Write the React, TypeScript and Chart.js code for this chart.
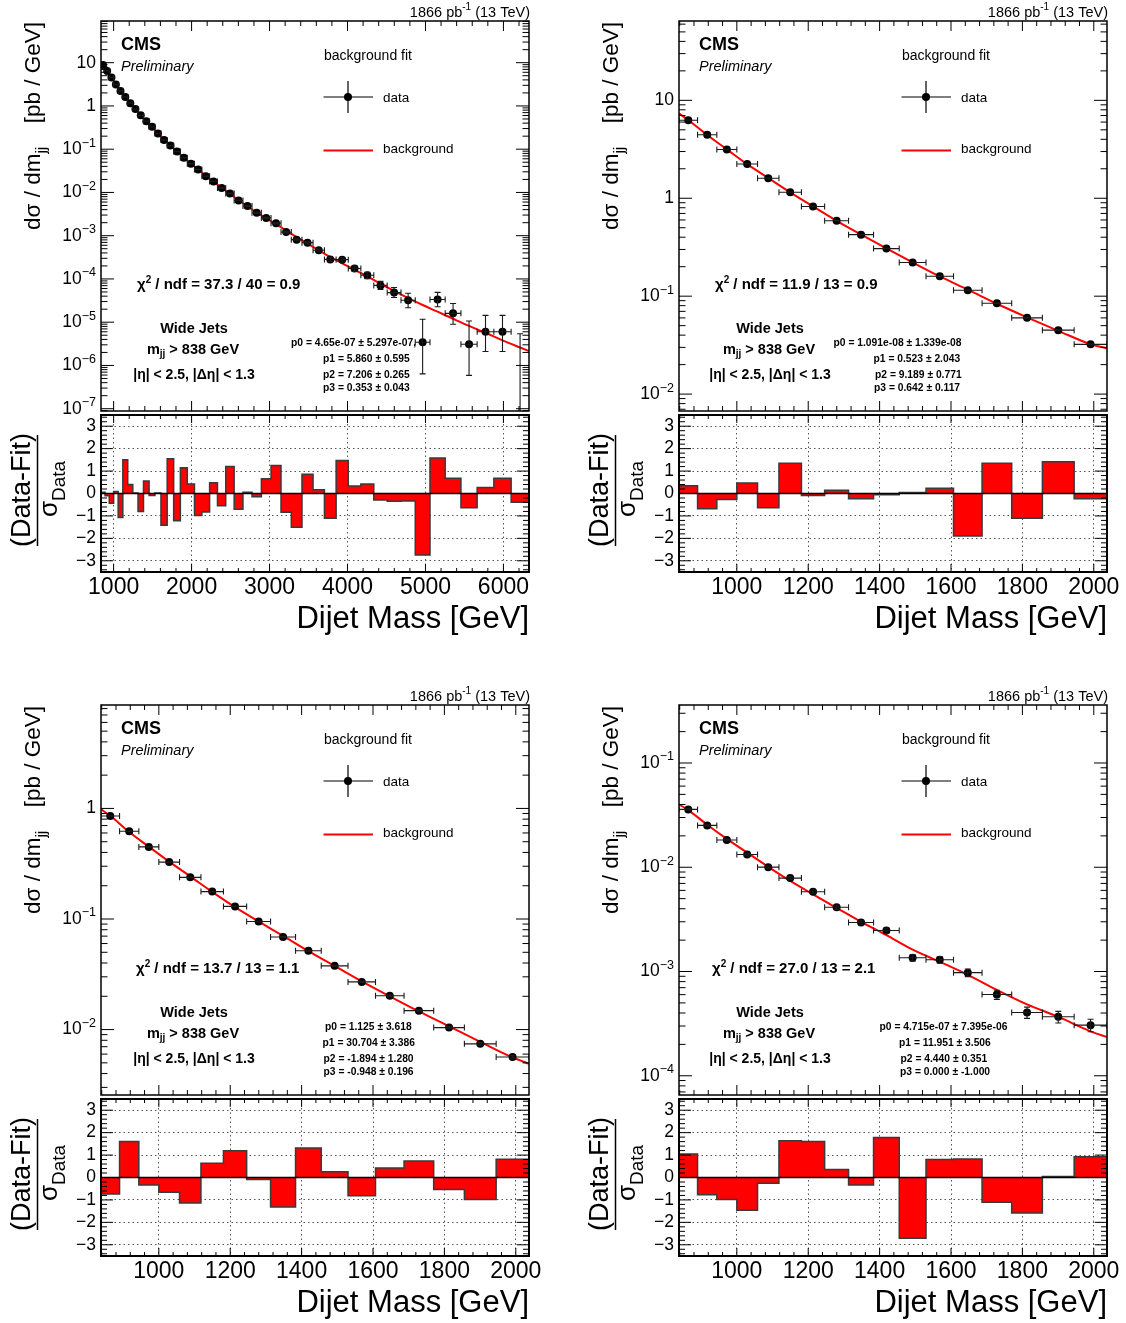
import React, { useEffect, useRef } from "react";
import { Chart, registerables } from "chart.js";

Chart.register(...registerables);

const FONT = '"Liberation Sans", Arial, Helvetica, sans-serif';
const fnt = (size: number, style = "") => `${style} ${size}px ${FONT}`.trim();

// ---------------- data ----------------
const massEdgesWide = [838, 890, 944, 1000, 1058, 1118, 1181, 1246, 1313, 1383, 1455, 1530, 1607, 1687, 1770, 1856, 1945, 2037, 2132, 2231, 2332, 2438, 2546, 2659, 2775, 2895, 3019, 3147, 3279, 3416, 3558, 3704, 3854, 4010, 4171, 4337, 4509, 4686, 4869, 5058, 5253, 5455, 5663, 5877, 6099, 6328];
const massEdgesNarrow = [838, 890, 944, 1000, 1058, 1118, 1181, 1246, 1313, 1383, 1455, 1530, 1607, 1687, 1770, 1856, 1945, 2037];

const xTickLabelsWide = [1000, 2000, 3000, 4000, 5000, 6000];
const xTickLabelsNarrow = [1000, 1200, 1400, 1600, 1800, 2000];
const pullTickLabels = [-3, -2, -1, 0, 1, 2, 3];

// top-left
const tlSpectrum = [8.85, 6.46, 4.55, 3.15, 2.22, 1.62, 1.16, 0.848, 0.607, 0.443, 0.329, 0.232, 0.163, 0.121, 0.0885, 0.0634, 0.0462, 0.0338, 0.0238, 0.018, 0.01267, 0.0094, 0.00651, 0.00483, 0.0034, 0.00258, 0.00195, 0.00121, 0.00081, 0.00069, 0.00046, 0.000283, 0.000279, 0.000174, 0.000122, 0.000071, 0.0000483, 0.0000323, 0.00000344, 0.0000335, 0.000016, 0.00000309, 0.000006, 0.000006, 0];
const tlErrUp = [0.0096, 0.008, 0.0066, 0.0054, 0.0045, 0.0037, 0.0031, 0.0026, 0.0022, 0.0018, 0.0015, 0.0013, 0.001, 0.00088, 0.00074, 0.00062, 0.00052, 0.00044, 0.00036, 0.00031, 0.00025, 0.00022, 0.00018, 0.00015, 0.00012, 0.00011, 0.00009, 0.00007, 0.000056, 0.000051, 0.000041, 0.000032, 0.000031, 0.000024, 0.00002, 0.000017, 0.000015, 0.0000145, 0.0000083, 0.0000155, 0.000011, 0.0000076, 0.0000084, 0.0000084, 0.0000054];
const tlErrDown = [0.0096, 0.008, 0.0066, 0.0054, 0.0045, 0.0037, 0.0031, 0.0026, 0.0022, 0.0018, 0.0015, 0.0013, 0.001, 0.00088, 0.00074, 0.00062, 0.00052, 0.00044, 0.00036, 0.00031, 0.00025, 0.00022, 0.00018, 0.00015, 0.00012, 0.00011, 0.00009, 0.00007, 0.000056, 0.000051, 0.000041, 0.000032, 0.000031, 0.000024, 0.00002, 0.000014, 0.000011, 0.0000107, 0.0000028, 0.0000107, 0.000007, 0.0000025, 0.0000039, 0.0000039, 0];
const tlFit = [10.2, 8.75, 6.48, 4.57, 3.17, 2.24, 1.6, 1.155, 0.848, 0.612, 0.441, 0.329, 0.231, 0.166, 0.12, 0.0893, 0.063, 0.0458, 0.0342, 0.0241, 0.0178, 0.0128, 0.00925, 0.0066, 0.00482, 0.00342, 0.00252, 0.00185, 0.00131, 0.00093, 0.00066, 0.00046, 0.00032, 0.00023, 0.000162, 0.000115, 0.000077, 0.000053, 0.000036, 0.000025, 0.0000175, 0.000012, 0.0000082, 0.0000057, 0.0000038, 0.0000026, 0.00000215];
const tlPull = [0.06, -0.1, -0.44, 0.09, -1.07, 1.5, 0.4, 0.02, -0.8, 0.56, -0.09, 0.02, -1.42, 1.55, -1.21, 1.15, 0.42, -0.98, -0.83, 0.48, -0.55, 1.2, -0.7, 0.06, -0.15, 0.66, 1.25, -0.84, -1.5, 0.86, 0.17, -1.1, 1.47, 0.33, 0.42, -0.29, -0.35, -0.33, -2.74, 1.58, 0.68, -0.64, 0.27, 0.68, -0.39];
const tlDecades = [10, 1, 0.1, 0.01, 1e-3, 1e-4, 1e-5, 1e-6, 1e-7];

// top-right
const trSpectrum = [6.27, 4.45, 3.15, 2.24, 1.6, 1.153, 0.824, 0.59, 0.425, 0.306, 0.221, 0.16, 0.1148, 0.0847, 0.0601, 0.045, 0.0322];
const trErr = [0.008, 0.0066, 0.0055, 0.0045, 0.0038, 0.0031, 0.0026, 0.0022, 0.0018, 0.0015, 0.00126, 0.00106, 0.00088, 0.00074, 0.00061, 0.00052, 0.00043];
const trFit = [7.35, 6.3, 4.42, 3.16, 2.23, 1.61, 1.15, 0.826, 0.589, 0.427, 0.307, 0.221, 0.159, 0.1165, 0.0837, 0.0608, 0.0443, 0.0323, 0.0293];
const trPull = [0.35, -0.68, -0.27, 0.47, -0.64, 1.35, -0.09, 0.14, -0.23, -0.06, 0.05, 0.23, -1.89, 1.35, -1.1, 1.42, -0.23];
const trDecades = [10, 1, 0.1, 0.01];

// bottom-left
const blSpectrum = [0.853, 0.621, 0.449, 0.327, 0.238, 0.177, 0.13, 0.095, 0.0687, 0.0517, 0.0377, 0.027, 0.0202, 0.01483, 0.01042, 0.00743, 0.00564];
const blErr = [0.003, 0.0025, 0.0021, 0.0017, 0.00146, 0.00123, 0.00103, 0.00087, 0.00073, 0.00062, 0.00052, 0.00043, 0.00037, 0.00031, 0.000255, 0.000212, 0.000181];
const blFit = [0.98, 0.858, 0.612, 0.451, 0.33, 0.243, 0.176, 0.128, 0.0951, 0.0703, 0.0512, 0.0376, 0.0273, 0.02, 0.0146, 0.0107, 0.00775, 0.0056, 0.0049];
const blPull = [-0.74, 1.6, -0.33, -0.66, -1.14, 0.63, 1.19, -0.09, -1.32, 1.31, 0.26, -0.81, 0.42, 0.74, -0.54, -0.98, 0.81];
const blDecades = [1, 0.1, 0.01];

// bottom-right
const brSpectrum = [0.0359, 0.0252, 0.01828, 0.01324, 0.01002, 0.00787, 0.00583, 0.00413, 0.00295, 0.00247, 0.001356, 0.001297, 0.000975, 0.000601, 0.000405, 0.000368, 0.000306];
const brErr = [0.00061, 0.0005, 0.00044, 0.00037, 0.00032, 0.00028, 0.00023, 0.00019, 0.00015, 0.000136, 0.000099, 0.000095, 0.000081, 0.00006, 0.00005, 0.000047, 0.000042];
const brFit = [0.0401, 0.0353, 0.0256, 0.0187, 0.0138, 0.0101, 0.0074, 0.0055, 0.00408, 0.003, 0.00223, 0.00162, 0.00124, 0.00093, 0.000667, 0.000484, 0.000367, 0.000267, 0.000235];
const brPull = [1.05, -0.77, -0.98, -1.46, -0.26, 1.64, 1.61, 0.36, -0.33, 1.78, -2.71, 0.8, 0.83, -1.1, -1.58, 0.05, 0.92];
const brDecades = [0.1, 0.01, 1e-3, 1e-4];

// ---------------- layout ----------------
const PANEL_W = 563;
const FRAME_L = 101;
const FRAME_R = 529;
const UP_TOP = 21;
const UP_BOT = 413;
const UP_H = 415;
const LO_OFF = 413;
const LO_TOP = 415;
const LO_BOT = 572;
const LO_H = 240;

type Spec = {
  left: number; top: number;
  edges: number[]; values: number[]; errUp: number[]; errDown: number[];
  fit: number[]; pulls: number[];
  yMin: number; yMax: number; decades: number[];
  xTicks: number[]; xMinorStep: number;
  chi2: string; chiX: number; wjX: number;
  params: string[]; paramX: number[];
};

const specs: Spec[] = [
  {
    left: 0, top: 0, edges: massEdgesWide, values: tlSpectrum, errUp: tlErrUp, errDown: tlErrDown,
    fit: tlFit, pulls: tlPull, yMin: 8.85e-8, yMax: 92, decades: tlDecades,
    xTicks: xTickLabelsWide, xMinorStep: 200,
    chi2: " / ndf = 37.3 / 40 = 0.9", chiX: 137, wjX: 194,
    params: ["p0 = 4.65e-07 \u00b1 5.297e-07,", "p1 = 5.860 \u00b1 0.595", "p2 = 7.206 \u00b1 0.265", "p3 = 0.353 \u00b1 0.043"],
    paramX: [291, 323, 323, 323],
  },
  {
    left: 578, top: 0, edges: massEdgesNarrow, values: trSpectrum, errUp: trErr, errDown: trErr,
    fit: trFit, pulls: trPull, yMin: 6.72e-3, yMax: 64.6, decades: trDecades,
    xTicks: xTickLabelsNarrow, xMinorStep: 40,
    chi2: " / ndf = 11.9 / 13 = 0.9", chiX: 137, wjX: 192,
    params: ["p0 = 1.091e-08 \u00b1 1.339e-08", "p1 = 0.523 \u00b1 2.043", "p2 = 9.189 \u00b1 0.771", "p3 = 0.642 \u00b1 0.117"],
    paramX: [255.5, 295.5, 297, 296],
  },
  {
    left: 0, top: 684, edges: massEdgesNarrow, values: blSpectrum, errUp: blErr, errDown: blErr,
    fit: blFit, pulls: blPull, yMin: 2.56e-3, yMax: 8.62, decades: blDecades,
    xTicks: xTickLabelsNarrow, xMinorStep: 40,
    chi2: " / ndf = 13.7 / 13 = 1.1", chiX: 136, wjX: 194,
    params: ["p0 = 1.125 \u00b1 3.618", "p1 = 30.704 \u00b1 3.386", "p2 = -1.894 \u00b1 1.280", "p3 = -0.948 \u00b1 0.196"],
    paramX: [325, 322.5, 323.5, 323.5],
  },
  {
    left: 578, top: 684, edges: massEdgesNarrow, values: brSpectrum, errUp: brErr, errDown: brErr,
    fit: brFit, pulls: brPull, yMin: 6.54e-5, yMax: 0.36, decades: brDecades,
    xTicks: xTickLabelsNarrow, xMinorStep: 40,
    chi2: " / ndf = 27.0 / 13 = 2.1", chiX: 134, wjX: 192,
    params: ["p0 = 4.715e-07 \u00b1 7.395e-06", "p1 = 11.951 \u00b1 3.506", "p2 = 4.440 \u00b1 0.351", "p3 = 0.000 \u00b1 -1.000"],
    paramX: [301.5, 321, 322.5, 322],
  },
];

// ---------------- drawing helpers ----------------
type Part = { t: string; font: string; dy?: number };
function drawParts(ctx: any, parts: Part[], x: number, y: number, align: "left" | "right" | "center") {
  const widths = parts.map((p) => { ctx.font = p.font; return ctx.measureText(p.t).width; });
  const total = widths.reduce((a, b) => a + b, 0);
  let cx = align === "left" ? x : align === "right" ? x - total : x - total / 2;
  ctx.textAlign = "left";
  parts.forEach((p, i) => { ctx.font = p.font; ctx.fillText(p.t, cx, y + (p.dy || 0)); cx += widths[i]; });
}

function minorTicks(min: number, max: number, step: number, majors: number[]) {
  const out: number[] = [];
  const start = Math.ceil(min / step);
  const end = Math.floor(max / step);
  for (let k = start; k <= end; k++) {
    const v = k * step;
    if (!majors.some((m) => Math.abs(m - v) < 1e-9)) out.push(v);
  }
  return out;
}

function logTicks(min: number, max: number) {
  const major: number[] = [];
  const minor: number[] = [];
  for (let e = Math.floor(Math.log10(min)); e <= Math.ceil(Math.log10(max)); e++) {
    for (let m = 1; m <= 9; m++) {
      const v = m * Math.pow(10, e);
      if (v < min || v > max) continue;
      (m === 1 ? major : minor).push(v);
    }
  }
  return { major, minor };
}

const rootPad = {
  id: "rootPad",
  afterDatasetsDraw(chart: any, _args: any, opts: any) {
    const s: Spec = opts.spec;
    const kind = opts.kind;
    const ctx = chart.ctx;
    const a = chart.chartArea;
    const xs = chart.scales.x;
    const ys = chart.scales.y;

    ctx.save();
    ctx.beginPath();
    ctx.rect(a.left, a.top, a.right - a.left, a.bottom - a.top);
    ctx.clip();
    if (kind === "upper") {
      ctx.strokeStyle = "#1a1a1a";
      ctx.lineWidth = 1.1;
      ctx.beginPath();
      for (let i = 0; i < s.values.length; i++) {
        const lo = s.edges[i];
        const hi = s.edges[i + 1];
        const xc = xs.getPixelForValue((lo + hi) / 2);
        const v = s.values[i];
        const yUp = ys.getPixelForValue(v + s.errUp[i]);
        const downVal = v - s.errDown[i];
        const yDown = downVal > 0 ? ys.getPixelForValue(downVal) : a.bottom + 10;
        ctx.moveTo(xc, yUp); ctx.lineTo(xc, yDown);
        ctx.moveTo(xc - 3, yUp); ctx.lineTo(xc + 3, yUp);
        if (downVal > 0) { ctx.moveTo(xc - 3, yDown); ctx.lineTo(xc + 3, yDown); }
        if (v > 0) {
          const yc = ys.getPixelForValue(v);
          const xl = xs.getPixelForValue(lo);
          const xr = xs.getPixelForValue(hi);
          ctx.moveTo(xl, yc); ctx.lineTo(xr, yc);
          ctx.moveTo(xl, yc - 3); ctx.lineTo(xl, yc + 3);
          ctx.moveTo(xr, yc - 3); ctx.lineTo(xr, yc + 3);
        }
      }
      ctx.stroke();
    } else {
      const y0 = ys.getPixelForValue(0);
      ctx.strokeStyle = "#000";
      ctx.lineWidth = 1.5;
      ctx.beginPath();
      ctx.moveTo(a.left, y0); ctx.lineTo(a.right, y0);
      ctx.stroke();
    }
    ctx.restore();

    // frame ticks
    ctx.save();
    ctx.strokeStyle = "#000";
    ctx.lineWidth = 1;
    const xMin = s.edges[0];
    const xMax = s.edges[s.edges.length - 1];
    const xMinor = minorTicks(xMin, xMax, s.xMinorStep, s.xTicks);
    const xLen = kind === "upper" ? [10, 5] : [8, 4];
    const yLen = kind === "upper" ? [13, 6.5] : [12, 6];
    let yMajor: number[]; let yMinor: number[];
    if (kind === "upper") {
      const lt = logTicks(s.yMin, s.yMax);
      yMajor = lt.major; yMinor = lt.minor;
    } else {
      yMajor = pullTickLabels;
      yMinor = minorTicks(-3.5, 3.5, 0.2, pullTickLabels);
    }
    ctx.beginPath();
    const xGroups: [number[], number][] = [[s.xTicks, xLen[0]], [xMinor, xLen[1]]];
    xGroups.forEach(([vals, len]) => {
      vals.forEach((v) => {
        const px = xs.getPixelForValue(v);
        if (px < a.left || px > a.right) return;
        ctx.moveTo(px, a.bottom); ctx.lineTo(px, a.bottom - len);
        ctx.moveTo(px, a.top); ctx.lineTo(px, a.top + len);
      });
    });
    const yGroups: [number[], number][] = [[yMajor, yLen[0]], [yMinor, yLen[1]]];
    yGroups.forEach(([vals, len]) => {
      vals.forEach((v) => {
        const py = ys.getPixelForValue(v);
        if (py < a.top || py > a.bottom) return;
        ctx.moveTo(a.left, py); ctx.lineTo(a.left + len, py);
        ctx.moveTo(a.right, py); ctx.lineTo(a.right - len, py);
      });
    });
    ctx.stroke();
    ctx.lineWidth = kind === "upper" ? 1.5 : 2;
    ctx.strokeRect(a.left, a.top, a.right - a.left, a.bottom - a.top);
    ctx.restore();
  },
  afterDraw(chart: any, _args: any, opts: any) {
    const s: Spec = opts.spec;
    const ctx = chart.ctx;
    const ys = chart.scales.y;
    ctx.save();
    ctx.fillStyle = "#000";
    if (opts.kind === "upper") {
      // y tick labels (ROOT style powers of ten)
      ctx.textBaseline = "middle";
      s.decades.forEach((d) => {
        const py = ys.getPixelForValue(d);
        const e = Math.round(Math.log10(d));
        let parts: Part[];
        if (e === 0) parts = [{ t: "1", font: fnt(17.5) }];
        else if (e === 1) parts = [{ t: "10", font: fnt(17.5) }];
        else parts = [{ t: "10", font: fnt(17.5) }, { t: (e < 0 ? "\u2212" : "") + Math.abs(e), font: fnt(12.5), dy: -6 }];
        drawParts(ctx, parts, FRAME_L - 5, py, "right");
      });

      // y title
      ctx.save();
      ctx.rotate(-Math.PI / 2);
      ctx.textBaseline = "alphabetic";
      drawParts(ctx, [{ t: "d\u03c3 / dm", font: fnt(22.5) }, { t: "jj", font: fnt(15.5), dy: 6 }], -230, 40, "left");
      drawParts(ctx, [{ t: "[pb / GeV]", font: fnt(22.5) }], -22, 40, "right");
      ctx.restore();

      ctx.textBaseline = "middle";
      // luminosity
      drawParts(ctx, [{ t: "1866 pb", font: fnt(14.5) }, { t: "-1", font: fnt(10), dy: -5 }, { t: " (13 TeV)", font: fnt(14.5) }], FRAME_R + 1, 12.5, "right");
      // CMS labels
      drawParts(ctx, [{ t: "CMS", font: fnt(18, "bold") }], 121, 45, "left");
      drawParts(ctx, [{ t: "Preliminary", font: fnt(14.5, "italic") }], 121, 67, "left");
      // legend
      drawParts(ctx, [{ t: "background fit", font: fnt(14) }], 324, 56, "left");
      ctx.strokeStyle = "#000";
      ctx.lineWidth = 1.2;
      ctx.beginPath();
      ctx.moveTo(323.5, 97); ctx.lineTo(373, 97);
      ctx.moveTo(348, 81); ctx.lineTo(348, 113);
      ctx.stroke();
      ctx.beginPath();
      ctx.arc(348, 97, 4, 0, Math.PI * 2);
      ctx.fill();
      drawParts(ctx, [{ t: "data", font: fnt(13.5) }], 383, 98, "left");
      ctx.strokeStyle = "#ff0000";
      ctx.lineWidth = 2;
      ctx.beginPath();
      ctx.moveTo(323.5, 150.5); ctx.lineTo(373, 150.5);
      ctx.stroke();
      drawParts(ctx, [{ t: "background", font: fnt(13.5) }], 383, 149, "left");
      // fit quality and selection
      drawParts(ctx, [{ t: "\u03c7", font: fnt(15, "bold") }, { t: "2", font: fnt(10, "bold"), dy: -5 }, { t: s.chi2, font: fnt(15, "bold") }], s.chiX, 285, "left");
      drawParts(ctx, [{ t: "Wide Jets", font: fnt(14.5, "bold") }], s.wjX, 329, "center");
      drawParts(ctx, [{ t: "m", font: fnt(14.5, "bold") }, { t: "jj", font: fnt(10, "bold"), dy: 4 }, { t: " > 838 GeV", font: fnt(14.5, "bold") }], s.wjX - 1, 350, "center");
      drawParts(ctx, [{ t: "|\u03b7| < 2.5, |\u0394\u03b7| < 1.3", font: fnt(14, "bold") }], s.wjX, 375, "center");
      const pY = [343.5, 359, 375, 388];
      s.params.forEach((p, i) => drawParts(ctx, [{ t: p, font: fnt(10.3, "bold") }], s.paramX[i], pY[i], "left"));
    } else {
      // (Data-Fit)/sigma_Data title
      ctx.save();
      ctx.rotate(-Math.PI / 2);
      ctx.textBaseline = "alphabetic";
      drawParts(ctx, [{ t: "(Data-Fit)", font: fnt(27) }], -(490 - LO_OFF), 30, "center");
      drawParts(ctx, [{ t: "\u03c3", font: fnt(26) }, { t: "Data", font: fnt(19), dy: 8 }], -(489 - LO_OFF), 57, "center");
      ctx.restore();
      ctx.strokeStyle = "#000";
      ctx.lineWidth = 1.5;
      ctx.beginPath();
      ctx.moveTo(37.5, 435 - LO_OFF); ctx.lineTo(37.5, 546 - LO_OFF);
      ctx.stroke();
    }
    ctx.restore();
  },
};

const noPad = (axis: any) => {
  axis.paddingTop = 0; axis.paddingBottom = 0; axis.paddingLeft = 0; axis.paddingRight = 0;
};

function upperConfig(s: Spec): any {
  const centers = s.values.map((_, i) => (s.edges[i] + s.edges[i + 1]) / 2);
  const fitX = [s.edges[0], ...centers, s.edges[s.edges.length - 1]];
  return {
    type: "line",
    data: {
      datasets: [
        {
          label: "data",
          data: centers.map((x, i) => ({ x, y: s.values[i] > 0 ? s.values[i] : null })),
          showLine: false,
          pointRadius: 4,
          pointBackgroundColor: "#000",
          pointBorderColor: "#000",
          pointBorderWidth: 0,
        },
        {
          label: "background",
          data: fitX.map((x, i) => ({ x, y: s.fit[i] })),
          borderColor: "#ff0000",
          borderWidth: 2,
          pointRadius: 0,
          cubicInterpolationMode: "monotone",
          fill: false,
        },
      ],
    },
    options: {
      responsive: false,
      maintainAspectRatio: false,
      animation: false,
      events: [],
      layout: { padding: { left: 0, top: UP_TOP, right: PANEL_W - FRAME_R, bottom: UP_H - UP_BOT } },
      scales: {
        x: { type: "linear", min: s.edges[0], max: s.edges[s.edges.length - 1], display: false, afterFit: noPad },
        y: {
          type: "logarithmic", min: s.yMin, max: s.yMax,
          afterFit: (axis: any) => { axis.width = FRAME_L; noPad(axis); },
          ticks: { display: false }, grid: { display: false }, border: { display: false },
        },
      },
      plugins: { legend: { display: false }, tooltip: { enabled: false }, rootPad: { kind: "upper", spec: s } },
    },
    plugins: [rootPad],
  };
}

function lowerConfig(s: Spec): any {
  // each bin edge carries its own bin's pull; the final edge closes the last bin
  const pts = s.pulls.map((p, i) => ({ x: s.edges[i], y: p }));
  pts.push({ x: s.edges[s.edges.length - 1], y: s.pulls[s.pulls.length - 1] });
  const xAxisH = 63;
  return {
    type: "line",
    data: {
      datasets: [
        {
          label: "pull",
          data: pts,
          stepped: "before",
          fill: "origin",
          backgroundColor: "#ff0000",
          borderColor: "#3a3a3a",
          borderWidth: 1.5,
          pointRadius: 0,
        },
      ],
    },
    options: {
      responsive: false,
      maintainAspectRatio: false,
      animation: false,
      events: [],
      layout: { padding: { left: 0, top: LO_TOP - LO_OFF, right: PANEL_W - FRAME_R, bottom: LO_H - (LO_BOT - LO_OFF) - xAxisH } },
      scales: {
        x: {
          type: "linear", min: s.edges[0], max: s.edges[s.edges.length - 1],
          afterBuildTicks: (axis: any) => { axis.ticks = s.xTicks.map((v) => ({ value: v })); },
          afterFit: (axis: any) => { axis.height = xAxisH; noPad(axis); },
          ticks: { color: "#000", font: { family: FONT, size: 23, lineHeight: 1 }, padding: 4, autoSkip: false, maxRotation: 0, callback: (v: any) => String(v) },
          grid: { color: "#555", lineWidth: 1, drawTicks: false },
          border: { display: false, dash: [1.5, 3] },
          title: { display: true, text: "Dijet Mass [GeV]", align: "end", color: "#000", font: { family: FONT, size: 31, lineHeight: 1 }, padding: 0 },
        },
        y: {
          type: "linear", min: -3.5, max: 3.5,
          afterBuildTicks: (axis: any) => { axis.ticks = pullTickLabels.map((v) => ({ value: v })); },
          afterFit: (axis: any) => { axis.width = FRAME_L; noPad(axis); },
          ticks: { color: "#000", font: { family: FONT, size: 17.5 }, padding: 5, autoSkip: false, callback: (v: any) => (v < 0 ? "\u2212" + Math.abs(v) : String(v)) },
          grid: { color: "#555", lineWidth: 1, drawTicks: false },
          border: { display: false, dash: [1.5, 3] },
        },
      },
      plugins: { legend: { display: false }, tooltip: { enabled: false }, rootPad: { kind: "lower", spec: s } },
    },
    plugins: [rootPad],
  };
}

function Panel({ spec }: { spec: Spec }) {
  const upRef = useRef<HTMLCanvasElement>(null);
  const loRef = useRef<HTMLCanvasElement>(null);
  useEffect(() => {
    const up = new Chart(upRef.current as HTMLCanvasElement, upperConfig(spec));
    const lo = new Chart(loRef.current as HTMLCanvasElement, lowerConfig(spec));
    return () => { up.destroy(); lo.destroy(); };
  }, [spec]);
  return (
    <>
      <canvas ref={upRef} width={PANEL_W} height={UP_H}
        style={{ position: "absolute", left: spec.left, top: spec.top, width: PANEL_W, height: UP_H }} />
      <canvas ref={loRef} width={PANEL_W} height={LO_H}
        style={{ position: "absolute", left: spec.left, top: spec.top + LO_OFF, width: PANEL_W, height: LO_H }} />
    </>
  );
}

export default function App() {
  return (
    <div style={{ position: "fixed", left: 0, top: 0, width: 1126, height: 1323, overflow: "hidden", background: "#fff" }}>
      {specs.map((s, i) => <Panel key={i} spec={s} />)}
    </div>
  );
}
